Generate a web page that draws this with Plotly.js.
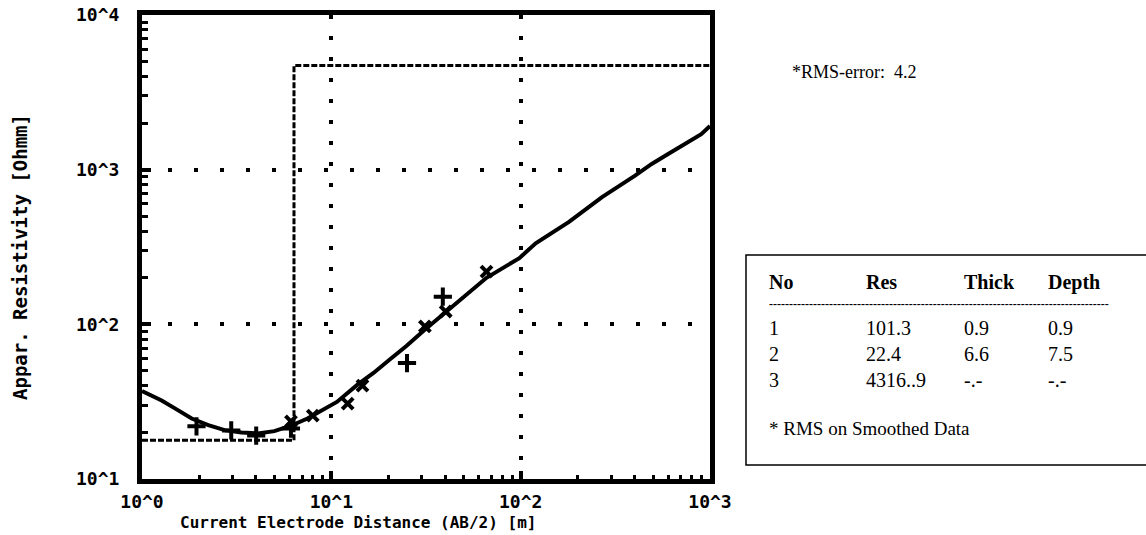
<!DOCTYPE html>
<html><head><meta charset="utf-8">
<script src="https://cdn.plot.ly/plotly-3.0.1.min.js"></script>
<style>html,body{margin:0;padding:0;background:#fff}#chart{width:1146px;height:535px}</style>
</head><body><div id="chart"></div>
<script>
// Layer model (step line)
const modelX = [1, 6.35, 6.35, 1000];
const modelY = [17.8, 17.8, 4710, 4710];
// Calculated (fitted) curve
const curveX = [1, 1.27, 1.50, 1.83, 2.24, 2.73, 3.35, 4.09, 5.00, 6.12, 7.48, 9.15, 10.7, 13.7, 16.7, 20.5, 25.0, 30.6, 40.6, 66.0, 98.4, 120, 180, 269, 402, 492, 601, 736, 899, 1000];
const curveY = [37.0, 32.2, 28.5, 24.6, 22.3, 20.7, 20.0, 19.7, 20.4, 22.1, 24.6, 28.5, 31.5, 40.6, 48.5, 59.7, 72.6, 90.6, 122, 200, 268, 334, 459, 664, 916, 1089, 1262, 1462, 1694, 1914];
// Measured data (+ markers)
const plusX = [1.94, 2.96, 4.01, 6.12, 25.1, 38.8];
const plusY = [21.9, 20.6, 19.1, 21.2, 56.2, 151];
// Measured data (x markers)
const crossX = [6.12, 7.98, 12.2, 14.6, 31.2, 40.2, 66.0];
const crossY = [23.6, 25.7, 30.7, 40.1, 97.1, 121, 219];
// Ticks
const xTickVals = [1, 10, 100, 1000];
const xTickText = ['10^0', '10^1', '10^2', '10^3'];
const yTickVals = [10, 100, 1000, 10000];
const yTickText = ['10^1', '10^2', '10^3', '10^4'];
const xMinorVals = [2,3,4,5,6,7,8,9,20,30,40,50,60,70,80,90,200,300,400,500,600,700,800,900];
const yMinorVals = [20,30,40,50,60,70,80,90,200,300,400,500,600,700,800,900,2000,3000,4000,5000,6000,7000,8000,9000];
// Texts
const xTitle = 'Current Electrode Distance (AB/2) [m]';
const yTitle = 'Appar. Resistivity [Ohmm]';
const rmsText = '*RMS-error:  4.2';
const tableHeader = ['No', 'Res', 'Thick', 'Depth'];
const tableRows = [['1', '101.3', '0.9', '0.9'], ['2', '22.4', '6.6', '7.5'], ['3', '4316..9', '-.-', '-.-']];
const tableRule = '-------------------------------------------------------------------------------------';
const footnote = '* RMS on Smoothed Data';

const mono = 'DejaVu Sans Mono';
const serif = 'Liberation Serif, Times New Roman, serif';

const traces = [
  {x: modelX, y: modelY, mode: 'lines', line: {color: '#000', width: 3, dash: '6px,2px'}, hoverinfo: 'skip'},
  {x: curveX, y: curveY, mode: 'lines', line: {color: '#000', width: 4}, hoverinfo: 'skip'},
  {x: plusX, y: plusY, mode: 'markers', marker: {symbol: 'cross-thin', size: 13, line: {color: '#000', width: 4}}},
  {x: crossX, y: crossY, mode: 'markers', marker: {symbol: 'x-thin', size: 11, line: {color: '#000', width: 4}}}
];

function px2x(p) { return (p - 142) / 568; }
function py2y(p) { return (479 - p) / 464; }

const colX = [767, 864, 962, 1046];
const rowY = [328, 354, 380];
const ann = [];
ann.push({text: rmsText, x: px2x(790), y: py2y(72), font: {family: serif, size: 18, color: '#000'}});
tableHeader.forEach((h, i) => ann.push({text: '<b>' + h + '</b>', x: px2x(colX[i]), y: py2y(282), font: {family: serif, size: 20, color: '#000'}}));
ann.push({text: '<b>' + tableRule + '</b>', x: px2x(767), y: py2y(304), font: {family: serif, size: 12, color: '#000'}});
tableRows.forEach((r, j) => r.forEach((c, i) => ann.push({text: c, x: px2x(colX[i]), y: py2y(rowY[j]), font: {family: serif, size: 20, color: '#000'}})));
ann.push({text: footnote, x: px2x(767), y: py2y(428), font: {family: serif, size: 19, color: '#000'}});
ann.push({text: '<b>' + xTitle + '</b>', x: px2x(178), y: py2y(522), font: {family: mono, size: 16, color: '#000'}});
ann.push({text: '<b>' + yTitle + '</b>', x: px2x(20), y: py2y(257), xanchor: 'center', textangle: -90, font: {family: mono, size: 19, color: '#000'}});
ann.forEach(a => { a.xref = 'paper'; a.yref = 'paper'; a.showarrow = false; if (!a.xanchor) a.xanchor = 'left'; a.yanchor = 'middle'; });

const tickFont = {family: mono, size: 18, weight: 'bold', color: '#000'};
const layout = {
  width: 1146, height: 535,
  margin: {l: 142, r: 436, t: 15, b: 56},
  paper_bgcolor: '#fff', plot_bgcolor: '#fff',
  showlegend: false,
  xaxis: {type: 'log', range: [0, 3], tickmode: 'array', tickvals: xTickVals, ticktext: xTickText,
    ticks: 'inside', ticklen: 8, tickwidth: 4, tickcolor: '#000',
    showline: true, linewidth: 5, linecolor: '#000', mirror: true,
    showgrid: true, gridcolor: '#000', gridwidth: 4, griddash: '4px,17px', zeroline: false,
    tickfont: tickFont, ticklabelstandoff: 2,
    minor: {tickmode: 'array', tickvals: xMinorVals, ticks: 'inside', ticklen: 4, tickwidth: 3, tickcolor: '#000', showgrid: false}},
  yaxis: {type: 'log', range: [1, 4], tickmode: 'array', tickvals: yTickVals, ticktext: yTickText,
    ticks: 'inside', ticklen: 9, tickwidth: 4, tickcolor: '#000',
    showline: true, linewidth: 5, linecolor: '#000', mirror: true,
    showgrid: true, gridcolor: '#000', gridwidth: 4, griddash: '4px,22px', zeroline: false,
    tickfont: tickFont, ticklabelstandoff: 14,
    minor: {tickmode: 'array', tickvals: yMinorVals, ticks: 'inside', ticklen: 6, tickwidth: 3, tickcolor: '#000', showgrid: false}},
  shapes: [{type: 'rect', xref: 'paper', yref: 'paper', x0: px2x(746), x1: px2x(1160), y0: py2y(465), y1: py2y(255), line: {color: '#000', width: 1.5}}],
  annotations: ann
};
Plotly.newPlot('chart', traces, layout, {displayModeBar: false, staticPlot: true});
</script>
</body></html>
